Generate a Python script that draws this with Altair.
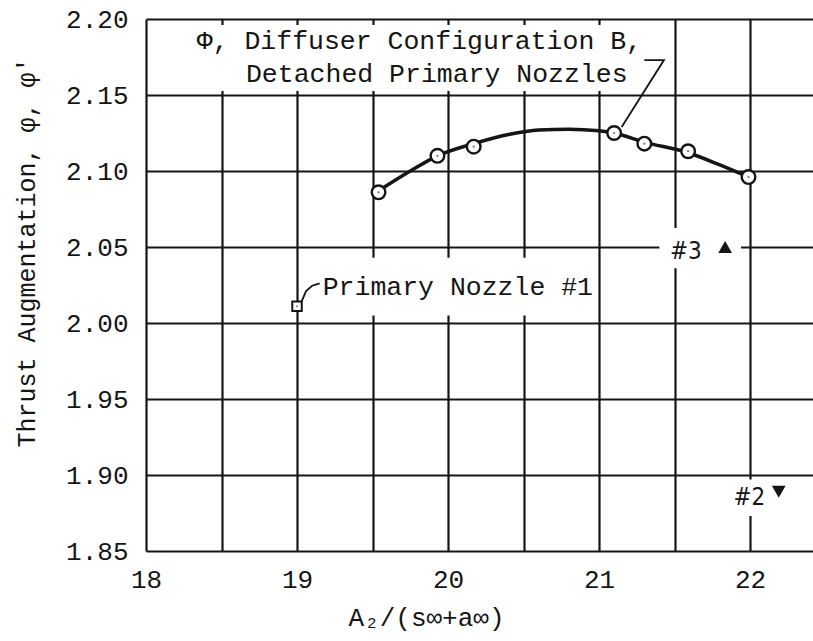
import altair as alt
import pandas as pd

# ---------------- data ----------------
# Diffuser configuration B, detached primary nozzles (open circles)
config_b_x = [19.54, 19.93, 20.17, 21.10, 21.30, 21.59, 21.99]
config_b_y = [2.086, 2.110, 2.116, 2.125, 2.118, 2.113, 2.096]

# faired curve through configuration B data
curve_x = [19.54, 19.75, 19.93, 20.17, 20.40, 20.60, 20.80, 21.00, 21.10, 21.30, 21.59, 21.80, 21.99]
curve_y = [2.087, 2.100, 2.110, 2.118, 2.124, 2.127, 2.1275, 2.1265, 2.125, 2.119, 2.112, 2.104, 2.096]

# single primary nozzles
nozzle1_x, nozzle1_y = [19.0], [2.011]     # square
nozzle3_x, nozzle3_y = [21.835], [2.050]   # triangle up
nozzle2_x, nozzle2_y = [22.19], [1.889]    # triangle down

# axes
x_grid = [18.0, 18.5, 19.0, 19.5, 20.0, 20.5, 21.0, 21.5, 22.0]
y_ticks = [1.85, 1.90, 1.95, 2.00, 2.05, 2.10, 2.15, 2.20]
x_domain = [18.0, 22.417]
y_domain = [1.85, 2.20]
x_title = "A\u2082/(s\u221e+a\u221e)"
y_title = "Thrust Augmentation, \u03c6, \u03c6'"

# annotation texts (left edge, baseline)
note_text = ["\u03a6, Diffuser Configuration B,", "Detached Primary Nozzles", "Primary Nozzle #1"]
note_x = [18.336, 18.662, 19.17]
note_y = [2.180, 2.1588, 2.0184]
tag_text = ["#3", "#2"]
tag_x = [21.47, 21.89]
tag_y = [2.0419, 1.880]

# blank paper behind the lettering (grid interrupted)
blank_x1 = [18.30, 19.15, 21.40, 21.87]
blank_x2 = [21.35, 20.98, 21.94, 22.10]
blank_y1 = [2.1526, 2.005, 2.036, 1.873]
blank_y2 = [2.196, 2.043, 2.0625, 1.897]

# leader lines
leader_id = ["a", "a", "a", "b", "b", "b", "b"]
leader_x = [21.30, 21.43, 21.15, 19.03, 19.06, 19.10, 19.15]
leader_y = [2.173, 2.173, 2.129, 2.014, 2.021, 2.0245, 2.026]

# ---------------- chart ----------------
MONO = "Liberation Mono, DejaVu Sans Mono, monospace"
NARROW = "Liberation Sans Narrow, DejaVu Sans Condensed, sans-serif"
INK = "#151515"


def X(field="x"):
    return alt.X(
        f"{field}:Q",
        scale=alt.Scale(domain=x_domain, nice=False, zero=False),
        axis=alt.Axis(
            values=x_grid,
            labelExpr="datum.value % 1 === 0 ? format(datum.value, 'd') : ''",
            title=x_title,
            titleX=280, titleY=66, titleAlign="center", titleBaseline="middle",
            labelPadding=15,
        ),
    )


def Y(field="y"):
    return alt.Y(
        f"{field}:Q",
        scale=alt.Scale(domain=y_domain, nice=False, zero=False),
        axis=alt.Axis(
            values=y_ticks,
            format=".2f",
            title=y_title,
            titleX=-120, titleY=233, titleAngle=270, titleAlign="center", titleBaseline="middle",
            titleFontSize=25,
            labelPadding=18,
        ),
    )


blank_df = pd.DataFrame({"x": blank_x1, "x2": blank_x2, "y": blank_y1, "y2": blank_y2})
curve_df = pd.DataFrame({"x": curve_x, "y": curve_y})
cfg_df = pd.DataFrame({"x": config_b_x, "y": config_b_y})
leader_df = pd.DataFrame({"id": leader_id, "x": leader_x, "y": leader_y, "o": list(range(len(leader_x)))})
n1_df = pd.DataFrame({"x": nozzle1_x, "y": nozzle1_y})
n3_df = pd.DataFrame({"x": nozzle3_x, "y": nozzle3_y})
n2_df = pd.DataFrame({"x": nozzle2_x, "y": nozzle2_y})
note_df = pd.DataFrame({"x": note_x, "y": note_y, "t": note_text})
tag_df = pd.DataFrame({"x": tag_x, "y": tag_y, "t": tag_text})

blank = alt.Chart(blank_df).mark_rect(color="white").encode(x=X(), x2="x2:Q", y=Y(), y2="y2:Q")

curve = alt.Chart(curve_df).mark_line(color=INK, strokeWidth=3.5, interpolate="monotone").encode(x=X(), y=Y())

leaders = alt.Chart(leader_df).mark_line(color=INK, strokeWidth=1.8).encode(
    x=X(), y=Y(), detail="id:N", order="o:Q"
)

circles = alt.Chart(cfg_df).mark_point(
    shape="circle", filled=True, fill="white", stroke=INK, strokeWidth=2.4, size=185, opacity=1
).encode(x=X(), y=Y())
circle_dots = alt.Chart(cfg_df).mark_point(shape="circle", filled=True, color="#444", size=5).encode(x=X(), y=Y())

square = alt.Chart(n1_df).mark_point(
    shape="square", filled=True, fill="white", stroke=INK, strokeWidth=2, size=90, opacity=1
).encode(x=X(), y=Y())
square_dot = alt.Chart(n1_df).mark_point(shape="circle", filled=True, color="#444", size=4).encode(x=X(), y=Y())

tri_up = alt.Chart(n3_df).mark_point(shape="triangle-up", filled=True, color=INK, size=190, opacity=1).encode(
    x=X(), y=Y()
)
tri_down = alt.Chart(n2_df).mark_point(shape="triangle-down", filled=True, color=INK, size=190, opacity=1).encode(
    x=X(), y=Y()
)

notes = alt.Chart(note_df).mark_text(
    font=MONO, fontSize=26.5, color=INK, align="left", baseline="alphabetic"
).encode(x=X(), y=Y(), text="t:N")

tags = alt.Chart(tag_df).mark_text(
    font=NARROW, fontSize=24, color=INK, align="left", baseline="alphabetic"
).encode(x=X(), y=Y(), text="t:N")

chart = (
    alt.layer(blank, curve, leaders, circles, circle_dots, square, square_dot, tri_up, tri_down, notes, tags)
    .properties(
        width=667,
        height=532,
        autosize=alt.AutoSizeParams(type="none"),
        padding={"left": 146, "top": 19, "right": 0, "bottom": 90},
        background="white",
    )
    .configure_view(stroke=None)
    .configure_axis(
        grid=True,
        gridColor=INK,
        gridWidth=2.2,
        gridOpacity=1,
        domain=False,
        ticks=False,
        labelFont=MONO,
        labelFontSize=26,
        labelColor=INK,
        titleFont=MONO,
        titleFontSize=26,
        titleFontWeight="normal",
        titleColor=INK,
        labelFlush=False,
        labelOverlap=False,
    )
)

chart.save("out.html", embed_options={"renderer": "svg", "actions": False})
